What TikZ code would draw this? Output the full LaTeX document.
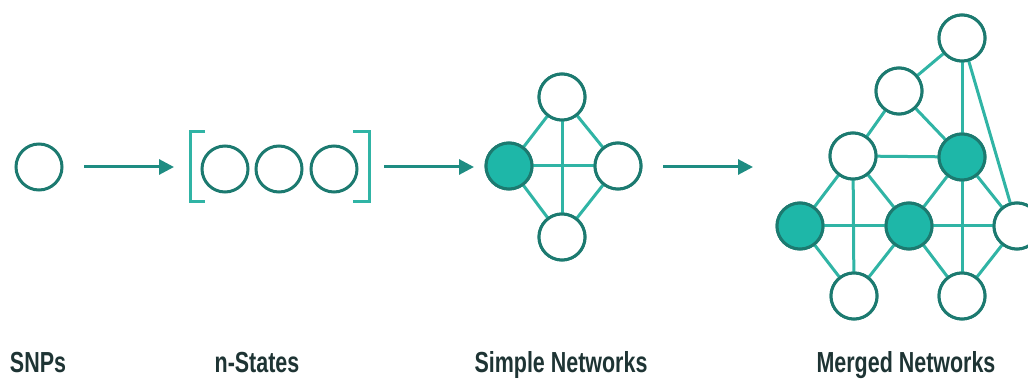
\documentclass[tikz,border=0pt]{standalone}
\usepackage{fontspec}
\setmainfont{Liberation Sans}[FakeStretch=0.74]
\usetikzlibrary{arrows.meta}
\definecolor{tealline}{RGB}{48,180,165}
\definecolor{tealdark}{RGB}{28,122,112}
\definecolor{tealfill}{RGB}{30,183,168}
\definecolor{tealarrow}{RGB}{30,140,130}
\definecolor{labelcol}{RGB}{30,52,52}
\tikzset{
  nd/.style={circle, draw=tealdark, line width=3pt, fill=white, minimum size=46pt, inner sep=0pt},
  ndf/.style={nd, fill=tealfill},
  edge/.style={draw=tealline, line width=3pt},
  flow/.style={draw=tealarrow, line width=3pt, -{Triangle[length=15pt,width=15pt]}},
  brk/.style={draw=tealline, line width=3pt},
  lbl/.style={font=\bfseries\fontsize{29}{32}\selectfont, text=labelcol, anchor=base}
}
\begin{document}
\begin{tikzpicture}[x=1pt,y=-1pt]
\useasboundingbox (0,0) rectangle (1028,379);
\clip (0,0) rectangle (1028,379);
% SNPs
\node[nd] (snp) at (39,167) {};
% n-states
\node[nd] (s1) at (225,169) {};
\node[nd] (s2) at (279,169) {};
\node[nd] (s3) at (334,169) {};
\coordinate (lbt) at (205,132);
\coordinate (lbb) at (205,202);
\coordinate (rbt) at (353,132);
\coordinate (rbb) at (353,202);
\draw[brk] (lbt) -- ++(-15,0) |- (lbb);
\draw[brk] (rbt) -- ++(16,0) |- (rbb);
% simple network
\node[nd] (t) at (562,97) {};
\node[ndf] (l) at (509,166) {};
\node[nd] (r) at (618,166) {};
\node[nd] (b) at (562,237) {};
% merged network nodes
\node[nd] (A) at (962,38) {};
\node[nd] (B) at (899,91) {};
\node[nd] (C) at (853,156) {};
\node[ndf] (D) at (962,157) {};
\node[ndf] (E) at (800,226) {};
\node[ndf] (F) at (909,226) {};
\node[nd] (G) at (1017,226) {};
\node[nd] (H) at (854,296) {};
\node[nd] (I) at (962,296) {};
% arrows
\coordinate (a1s) at (84,167); \coordinate (a1e) at (174,167);
\coordinate (a2s) at (384,167); \coordinate (a2e) at (474,167);
\coordinate (a3s) at (663,167); \coordinate (a3e) at (753,167);
\draw[flow] (a1s) -- (a1e);
\draw[flow] (a2s) -- (a2e);
\draw[flow] (a3s) -- (a3e);
% edges (drawn, then nodes redrawn on top)
\foreach \u/\v in {t/l,t/r,l/b,r/b,l/r,t/b,
  A/B,A/D,A/G,B/C,B/D,C/D,C/E,C/H,C/F,D/F,D/I,D/G,E/F,F/G,E/H,H/F,F/I,I/G}
  \draw[edge] (\u.center) -- (\v.center);
\node[nd] at (t) {};
\node[ndf] at (l) {};
\node[nd] at (r) {};
\node[nd] at (b) {};
\node[nd] at (A) {};
\node[nd] at (B) {};
\node[nd] at (C) {};
\node[ndf] at (D) {};
\node[ndf] at (E) {};
\node[ndf] at (F) {};
\node[nd] at (G) {};
\node[nd] at (H) {};
\node[nd] at (I) {};
% labels
\node[lbl] (l1) at (38,372) {SNPs};
\node[lbl] (l2) at (257,372) {n-States};
\node[lbl] (l3) at (561,372) {Simple Networks};
\node[lbl] (l4) at (906,372) {Merged Networks};
\end{tikzpicture}
\end{document}
